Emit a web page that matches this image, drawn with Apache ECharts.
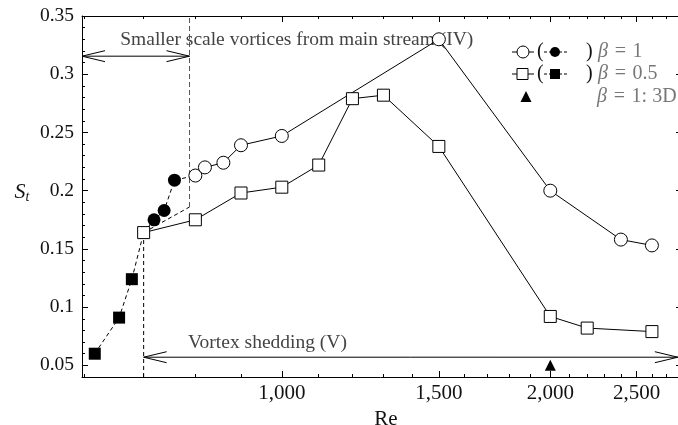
<!DOCTYPE html>
<html><head><meta charset="utf-8">
<script src="https://cdn.jsdelivr.net/npm/echarts@6/dist/echarts.min.js"></script>
<style>html,body{margin:0;padding:0;background:#fff}#c{width:678px;height:425px}</style>
</head><body><div id="c"></div>
<script>
// ---- data (Re, St) ----
const b1OpenRe   = [800, 820, 860, 900, 1000, 1500, 2000, 2400, 2600];
const b1OpenSt   = [0.213, 0.220, 0.224, 0.239, 0.247, 0.330, 0.200, 0.158, 0.153];
const b1FilledRe = [719, 738, 758];
const b1FilledSt = [0.175, 0.183, 0.209];
const b05OpenRe   = [700, 800, 900, 1000, 1100, 1200, 1300, 1500, 2000, 2200, 2600];
const b05OpenSt   = [0.164, 0.175, 0.198, 0.203, 0.222, 0.279, 0.282, 0.238, 0.092, 0.082, 0.079];
const b05FilledRe = [617, 657, 679];
const b05FilledSt = [0.060, 0.091, 0.124];
const threeDRe = [2000];
const threeDSt = [0.050];
// ---- axes ----
const reMin = 597, reMax = 2810, stMin = 0.04, stMax = 0.35;
const xMajorTicks = [1000, 1500, 2000, 2500];
const xMinorTicks = [600, 700, 800, 900, 1000, 1100, 1200, 1300, 1400, 1500, 1600, 1700, 1800, 1900, 2000, 2100, 2200, 2300, 2400, 2500, 2600, 2700, 2800];
const yMajorTicks = [0.05, 0.10, 0.15, 0.20, 0.25, 0.30, 0.35];
const yMinorTicks = [0.04, 0.05, 0.06, 0.07, 0.08, 0.09, 0.10, 0.11, 0.12, 0.13, 0.14, 0.15, 0.16, 0.17, 0.18, 0.19, 0.20, 0.21, 0.22, 0.23, 0.24, 0.25, 0.26, 0.27, 0.28, 0.29, 0.30, 0.31, 0.32, 0.33, 0.34, 0.35];
// ---- regime annotations ----
const regimeVStartRe = 700, regimeVStartSt = 0.164;
const regimeIVEndRe = 788, regimeIVEndSt = 0.186;
const arrowIVSt = 0.3155, arrowVSt = 0.057, arrowVEndRe = 2780;
const textIV = 'Smaller scale vortices from main stream (IV)';
const textV = 'Vortex shedding (V)';
const textIVPos = [659, 0.3294], textVPos = [785, 0.069];

const FONT = 'Liberation Serif';
const L = v => Math.log10(v);
const pts = (xs, ys) => xs.map((x, i) => [L(x), ys[i]]);
const fmtRe = v => { const n = Math.round(Math.pow(10, v)); return n.toLocaleString('en-US'); };
const fmtSt = v => String(+v.toFixed(2));

const chart = echarts.init(document.getElementById('c'), null, {renderer: 'canvas'});

function xAx(pos, ticks, len, withLine, labels) {
  return {
    type: 'value', position: pos, min: L(reMin), max: L(reMax),
    axisLine: {show: withLine, onZero: false, lineStyle: {color: '#000', width: 1}},
    axisTick: {show: true, inside: true, length: len, customValues: ticks.map(L), lineStyle: {color: '#000', width: 1}},
    axisLabel: labels ? {show: true, customValues: xMajorTicks.map(L), formatter: fmtRe, color: '#111', fontFamily: FONT, fontSize: 21, margin: 6} : {show: false},
    splitLine: {show: false},
    name: labels ? 'Re' : '', nameLocation: 'middle', nameGap: 32,
    nameTextStyle: {fontFamily: FONT, fontSize: 21, color: '#111', padding: [0, 0, 0, 8]}
  };
}
function yAx(pos, ticks, len, withLine, labels) {
  return {
    type: 'value', position: pos, min: stMin, max: stMax,
    axisLine: {show: withLine, onZero: false, lineStyle: {color: '#000', width: 1}},
    axisTick: {show: true, inside: true, length: len, customValues: ticks, lineStyle: {color: '#000', width: 1}},
    axisLabel: labels ? {show: true, customValues: yMajorTicks, formatter: fmtSt, color: '#111', fontFamily: FONT, fontSize: 19.5, margin: 8} : {show: false},
    splitLine: {show: false}
  };
}

const lineBase = {type: 'line', xAxisIndex: 0, yAxisIndex: 0, animation: false, silent: true, z: 3};
const dashedB1 = [[L(b05OpenRe[0]), b05OpenSt[0]]].concat(pts(b1FilledRe, b1FilledSt), [[L(b1OpenRe[0]), b1OpenSt[0]]]);
const dashedB05 = pts(b05FilledRe, b05FilledSt).concat([[L(b05OpenRe[0]), b05OpenSt[0]]]);

chart.setOption({
  animation: false,
  textStyle: {fontFamily: FONT},
  grid: {left: 82, top: 16, width: 600, height: 361, containLabel: false, outerBoundsMode: 'none'},
  xAxis: [xAx('bottom', xMinorTicks, 3, true, true), xAx('bottom', xMajorTicks, 6, false, false),
          xAx('top', xMinorTicks, 3, true, false), xAx('top', xMajorTicks, 6, false, false)],
  yAxis: [yAx('left', yMinorTicks, 3, true, true), yAx('left', yMajorTicks, 6, false, false),
          yAx('right', yMinorTicks, 3, true, false), yAx('right', yMajorTicks, 6, false, false)],
  series: [
    Object.assign({}, lineBase, {name: 'b1dash', data: dashedB1, symbol: 'none', lineStyle: {color: '#000', width: 1, type: [4, 3]}}),
    Object.assign({}, lineBase, {name: 'b05dash', data: dashedB05, symbol: 'none', lineStyle: {color: '#000', width: 1, type: [4, 3]}}),
    Object.assign({}, lineBase, {name: 'b1open', data: pts(b1OpenRe, b1OpenSt), symbol: 'circle', symbolSize: 13,
      itemStyle: {color: '#fff', borderColor: '#000', borderWidth: 1, opacity: 1}, lineStyle: {color: '#000', width: 1}}),
    Object.assign({}, lineBase, {name: 'b05open', data: pts(b05OpenRe, b05OpenSt), symbol: 'rect', symbolSize: 12,
      itemStyle: {color: '#fff', borderColor: '#000', borderWidth: 1, opacity: 1}, lineStyle: {color: '#000', width: 1}}),
    {type: 'scatter', name: 'b1filled', data: pts(b1FilledRe, b1FilledSt), symbol: 'circle', symbolSize: 13, itemStyle: {color: '#000', opacity: 1}, z: 4, silent: true},
    {type: 'scatter', name: 'b05filled', data: pts(b05FilledRe, b05FilledSt), symbol: 'rect', symbolSize: 12, itemStyle: {color: '#000', opacity: 1}, z: 4, silent: true},
    {type: 'scatter', name: '3D', data: pts(threeDRe, threeDSt), symbol: 'triangle', symbolSize: [11, 11], itemStyle: {color: '#000', opacity: 1}, z: 4, silent: true}
  ]
});

function px(re, st) { return chart.convertToPixel({xAxisIndex: 0, yAxisIndex: 0}, [L(re), st]); }
function chevron(tip, dir) { // dir: -1 points left, +1 points right
  const [x, y] = tip;
  return {type: 'polyline', z: 1, shape: {points: [[x - dir * 23, y - 5.5], [x, y], [x - dir * 23, y + 5.5]]},
          style: {stroke: '#000', lineWidth: 1, fill: null}};
}
const g = [];
const dash = {stroke: '#333', lineWidth: 1, fill: null, lineDash: [4, 3]};
g.push({type: 'polyline', z: 1, shape: {points: [px(regimeVStartRe, stMin), px(regimeVStartRe, regimeVStartSt)]}, style: Object.assign({}, dash, {stroke: '#000'})});
g.push({type: 'polyline', z: 1, shape: {points: [px(regimeVStartRe, regimeVStartSt), px(regimeIVEndRe, regimeIVEndSt)]}, style: Object.assign({}, dash, {stroke: '#000'})});
g.push({type: 'polyline', z: 1, shape: {points: [px(regimeIVEndRe, regimeIVEndSt), px(regimeIVEndRe, stMax)]}, style: Object.assign({}, dash, {stroke: '#555', lineDash: [5, 3]})});
const a1 = px(reMin, arrowIVSt), a2 = px(regimeIVEndRe, arrowIVSt);
g.push({type: 'polyline', z: 1, shape: {points: [a1, a2]}, style: {stroke: '#000', lineWidth: 1, fill: null}});
g.push(chevron(a1, -1), chevron(a2, 1));
const b1 = px(regimeVStartRe, arrowVSt), b2 = px(arrowVEndRe, arrowVSt);
g.push({type: 'polyline', z: 1, shape: {points: [b1, b2]}, style: {stroke: '#000', lineWidth: 1, fill: null}});
g.push(chevron(b1, -1), chevron(b2, 1));
const t1 = px(textIVPos[0], textIVPos[1]), t2 = px(textVPos[0], textVPos[1]);
g.push({type: 'text', z: 1, x: t1[0], y: t1[1], style: {text: textIV, fontFamily: FONT, fontSize: 19.5, fill: '#444', verticalAlign: 'middle', align: 'left'}});
g.push({type: 'text', z: 1, x: t2[0], y: t2[1], style: {text: textV, fontFamily: FONT, fontSize: 19.5, fill: '#444', verticalAlign: 'middle', align: 'left'}});
// y-axis name
g.push({type: 'text', x: 22, y: 192, style: {text: '{s|S}{t|t}', align: 'center', verticalAlign: 'middle',
  rich: {s: {fontFamily: FONT, fontStyle: 'italic', fontSize: 22, fill: '#111'}, t: {fontFamily: FONT, fontStyle: 'italic', fontSize: 14, fill: '#111', padding: [10, 0, 0, 0]}}}});
// legend
const legY = [52, 74, 97];
const legRich = {b: {fontFamily: FONT, fontStyle: 'italic', fontSize: 20, fill: '#777'}, n: {fontFamily: FONT, fontSize: 20, fill: '#777'}};
[0, 1].forEach(i => {
  const y = legY[i];
  g.push({type: 'line', z: 5, shape: {x1: 512, y1: y, x2: 534, y2: y}, style: {stroke: '#000', lineWidth: 1}});
  if (i === 0) g.push({type: 'circle', z: 6, shape: {cx: 523, cy: y, r: 6}, style: {fill: '#fff', stroke: '#000', lineWidth: 1}});
  else g.push({type: 'rect', z: 6, shape: {x: 517, y: y - 5.5, width: 11, height: 11}, style: {fill: '#fff', stroke: '#000', lineWidth: 1}});
  g.push({type: 'text', z: 5, x: 537, y: y, style: {text: '(', fontFamily: FONT, fontSize: 20, fill: '#111', verticalAlign: 'middle'}});
  g.push({type: 'line', z: 5, shape: {x1: 544, y1: y, x2: 568, y2: y}, style: {stroke: '#000', lineWidth: 1, lineDash: [3, 2]}});
  if (i === 0) g.push({type: 'circle', z: 6, shape: {cx: 555, cy: y, r: 5}, style: {fill: '#000'}});
  else g.push({type: 'rect', z: 6, shape: {x: 550, y: y - 5, width: 10, height: 10}, style: {fill: '#000'}});
  g.push({type: 'text', z: 5, x: 586, y: y, style: {text: ')', fontFamily: FONT, fontSize: 20, fill: '#111', verticalAlign: 'middle'}});
  g.push({type: 'text', z: 5, x: 598, y: y, style: {text: i === 0 ? '{b|β}{n|\u2004=\u20041}' : '{b|β}{n|\u2004=\u20040.5}', verticalAlign: 'middle', rich: legRich}});
});
g.push({type: 'polygon', z: 6, shape: {points: [[526, 91], [520.5, 102], [531.5, 102]]}, style: {fill: '#000'}});
g.push({type: 'text', z: 5, x: 597, y: 97, style: {text: '{b|β}{n|\u2004=\u20041: 3D}', verticalAlign: 'middle', rich: legRich}});
chart.setOption({graphic: {elements: g}});
</script></body></html>
